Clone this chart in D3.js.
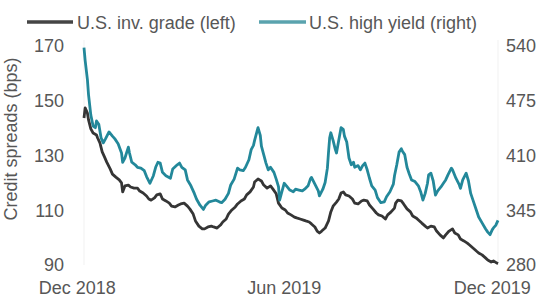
<!DOCTYPE html>
<html><head><meta charset="utf-8">
<script src="https://cdn.jsdelivr.net/npm/d3@7"></script>
<style>html,body{margin:0;padding:0;background:#fff;}svg{display:block;}</style>
</head><body>
<svg id="chart" width="549" height="297"></svg>
<script>
const startDate = "2018-12-03";
const endDate = "2019-12-02";
const seriesNames = ["U.S. inv. grade (left)", "U.S. high yield (right)"];
const xTickDates = ["2018-12-01", "2019-06-01", "2019-12-01"];
const xTickLabels = ["Dec 2018", "Jun 2019", "Dec 2019"];
const leftTicks = [90, 110, 130, 150, 170];
const rightTicks = [280, 345, 410, 475, 540];

// day offsets from startDate, and spreads (bps)
const igDays = [0,1,3,4,6,8,11,12,14,16,18,20,23,25,28,31,33,34,36,39,41,44,47,49,52,55,57,59,62,64,67,69,72,75,77,80,83,85,88,91,93,96,98,101,104,106,109,112,114,117,120,122,125,127,130,133,135,138,141,143,146,149,150,153,156,158,161,164,166,169,171,174,177,179,182,185,187,190,193,195,198,200,203,205,207,209,212,215,217,219,222,224,226,228,230,233,236,238,241,244,246,249,251,254,257,259,262,265,267,270,273,274,276,279,281,284,287,289,292,295,297,300,302,305,308,310,313,316,318,321,324,326,329,331,334,337,339,342,345,347,350,353,355,358,360,363,364];
const igSpread = [143.7,147.4,145.5,143.0,139.7,138.2,137.5,136.4,134.6,131.3,129.5,127.6,125.1,123.2,122.1,121.1,120.0,116.7,118.9,119.2,118.5,118.1,118.1,117.0,116.3,115.2,114.1,113.7,114.5,115.6,116.0,114.1,113.4,112.6,111.5,111.2,111.9,112.3,112.6,111.5,110.5,108.6,106.1,104.2,103.2,103.2,103.9,104.2,103.9,103.5,104.6,105.7,106.8,108.6,110.1,111.2,112.3,113.4,114.1,115.6,116.7,118.5,120.3,121.4,120.7,119.2,118.1,118.9,117.8,116.0,112.6,110.8,110.1,109.0,108.3,107.5,107.2,106.8,106.4,106.1,105.7,105.0,103.9,102.4,101.7,102.4,103.5,106.1,109.4,111.5,113.0,114.1,116.3,116.7,115.6,115.2,114.1,112.6,112.3,113.4,113.7,113.4,111.9,110.5,109.0,108.3,107.9,106.8,108.3,109.4,110.8,112.6,113.7,113.4,112.3,110.5,109.4,107.9,107.2,106.1,105.3,104.2,103.5,104.2,103.9,102.4,101.0,99.9,101.0,102.4,103.2,101.7,101.0,99.5,98.8,98.0,97.3,96.2,95.1,94.4,93.7,92.6,91.8,91.1,91.5,90.7,90.5];

const hyDays = [0,1,3,4,6,8,10,11,13,15,17,19,22,25,27,30,33,34,36,39,40,42,45,47,50,53,55,58,61,63,65,67,69,72,76,78,82,84,86,89,91,94,97,99,102,105,107,110,113,116,119,121,124,127,129,132,135,137,140,142,145,147,149,150,152,153,155,156,158,160,162,164,167,169,171,172,174,176,178,181,184,186,189,192,194,197,199,200,203,206,207,210,212,214,215,216,217,219,221,222,224,226,228,229,231,233,235,237,238,241,243,245,247,249,251,253,256,258,261,264,266,269,272,273,275,277,279,280,282,284,286,288,291,294,296,298,300,302,303,305,307,309,311,314,316,318,320,323,324,327,330,331,333,336,338,340,342,345,347,350,353,355,357,359,360,362,364];
const hySpread = [538,523,500,482,458,445,443,451,447,431,425,430,438,433,430,424,413,402,407,420,413,402,399,396,395,392,385,377,386,396,402,401,390,386,383,394,399,401,396,393,381,374,365,358,351,346,351,355,356,357,355,354,358,365,375,382,395,393,392,396,405,417,422,428,438,443,434,421,411,401,393,396,390,382,373,357,367,377,374,369,367,370,369,368,370,374,382,384,376,368,362,370,378,395,414,431,437,428,417,413,428,443,441,433,426,407,399,402,396,398,393,398,401,393,383,374,369,360,354,355,361,367,376,386,399,414,418,415,411,396,388,381,379,374,367,357,365,377,387,389,380,363,368,373,377,381,387,395,393,383,375,371,381,389,380,365,357,345,337,330,323,319,316,322,324,327,333];

const svg = d3.select("#chart");
const font = "'Liberation Sans', Arial, sans-serif";
const textColor = "#575757";
const igColor = "#353535";
const hyColor = "#23889a";

const t0 = d3.isoParse(startDate + "T00:00:00");
const toDate = d => d3.timeDay.offset(t0, d);

const x = d3.scaleTime().domain([t0, d3.isoParse(endDate + "T00:00:00")]).range([84, 498]);
const yL = d3.scaleLinear().domain([90, 170]).range([265, 46]);
const yR = d3.scaleLinear().domain([280, 540]).range([265, 46]);

// faint frame lines
svg.append("g").selectAll("line").data([x.domain()[0], x.domain()[1]]).join("line")
  .attr("x1", d => x(d)).attr("x2", d => x(d)).attr("y1", 40).attr("y2", 265)
  .attr("stroke", "#f1f1f1").attr("stroke-width", 1);

// left axis
const axL = svg.append("g").attr("transform", "translate(64,0)")
  .call(d3.axisLeft(yL).tickValues(leftTicks).tickSize(0).tickPadding(0));
axL.select(".domain").remove();
axL.selectAll("text").attr("font-family", font).attr("font-size", 18).attr("fill", textColor);

// right axis
const axR = svg.append("g").attr("transform", "translate(506,0)")
  .call(d3.axisRight(yR).tickValues(rightTicks).tickSize(0).tickPadding(0));
axR.select(".domain").remove();
axR.selectAll("text").attr("font-family", font).attr("font-size", 18).attr("fill", textColor);

// bottom axis
const axB = svg.append("g").attr("transform", "translate(0,276)")
  .call(d3.axisBottom(x).tickValues(xTickDates.map(s => d3.isoParse(s + "T00:00:00")))
    .tickFormat((d, i) => xTickLabels[i]).tickSize(0).tickPadding(5));
axB.select(".domain").remove();
axB.selectAll("text").attr("font-family", font).attr("font-size", 18).attr("fill", textColor).attr("dx", -5);

// y axis title
svg.append("text").attr("transform", "translate(17,139) rotate(-90)")
  .attr("text-anchor", "middle").attr("font-family", font).attr("font-size", 18)
  .attr("fill", textColor).text("Credit spreads (bps)");

// lines
const lineL = d3.line().x(d => x(toDate(d[0]))).y(d => yL(d[1])).curve(d3.curveLinear);
const lineR = d3.line().x(d => x(toDate(d[0]))).y(d => yR(d[1])).curve(d3.curveLinear);

svg.append("path").datum(igDays.map((d, i) => [d, igSpread[i]]))
  .attr("d", lineL).attr("fill", "none").attr("stroke", igColor).attr("stroke-width", 2.8)
  .attr("stroke-linejoin", "round");
svg.append("path").datum(hyDays.map((d, i) => [d, hySpread[i]]))
  .attr("d", lineR).attr("fill", "none").attr("stroke", hyColor).attr("stroke-width", 2.8)
  .attr("stroke-linejoin", "round");

// legend
const legend = [
  {name: seriesNames[0], color: "#454545", x0: 27, x1: 73, tx: 77},
  {name: seriesNames[1], color: "#5aa3ae", x0: 259, x1: 306, tx: 309}
];
const lg = svg.append("g");
lg.selectAll("line").data(legend).join("line")
  .attr("x1", d => d.x0).attr("x2", d => d.x1).attr("y1", 22).attr("y2", 22)
  .attr("stroke", d => d.color).attr("stroke-width", 3.5);
lg.selectAll("text").data(legend).join("text")
  .attr("x", d => d.tx).attr("y", 28.5).attr("font-family", font).attr("font-size", 18)
  .attr("fill", textColor).text(d => d.name);
</script>
</body></html>
